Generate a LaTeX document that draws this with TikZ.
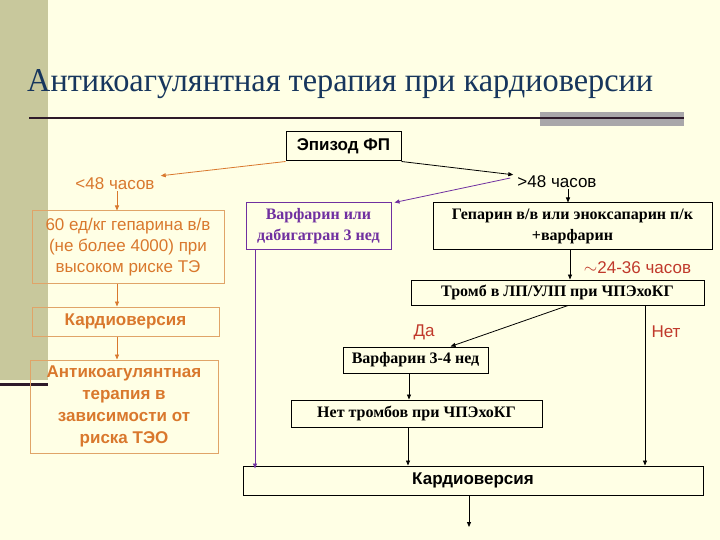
\documentclass[tikz,border=0pt]{standalone}
\usepackage{fontspec}
\setmainfont{Liberation Serif}
\setsansfont{Liberation Sans}
\newfontfamily\arialf{Liberation Sans}
\usetikzlibrary{arrows.meta}
\definecolor{bgc}{HTML}{FFFFE5}
\definecolor{barc}{HTML}{C8C89C}
\definecolor{titlec}{HTML}{17365D}
\definecolor{rulec}{HTML}{2E1A2A}
\definecolor{grayc}{HTML}{A9A7AA}
\definecolor{orc}{HTML}{D9782D}
\definecolor{orbc}{HTML}{E0A468}
\definecolor{purc}{HTML}{7030A0}
\definecolor{redc}{HTML}{C0392B}
\tikzset{
  arr/.style={-{Triangle[length=5pt,width=4pt]}, line width=0.8pt},
  bbox/.style={draw=black, line width=1pt, fill=bgc, inner sep=0pt, align=center},
  sansb/.style={font=\arialf\bfseries\fontsize{17}{20}\selectfont},
  serifb/.style={font=\rmfamily\bfseries\fontsize{16}{21}\selectfont},
  obox/.style={draw=orbc, line width=1pt, inner sep=0pt, align=center, text=orc},
  olab/.style={font=\arialf\fontsize{17}{21}\selectfont, inner sep=1pt},
}
\begin{document}
\begin{tikzpicture}[x=1pt,y=-1pt]
\fill[bgc] (0,0) rectangle (720,540);
\useasboundingbox (0,0) rectangle (720,540);
% left bar
\fill[barc] (0,0) rectangle (48,380);
\draw[rulec, line width=3pt] (0,384) -- (48,384);
% title
\node[anchor=base west, inner sep=0pt, text=titlec] (title) at (27,92)
  {\resizebox{626pt}{22pt}{\rmfamily Антикоагулянтная терапия при кардиоверсии}};
\fill[grayc] (540,112) rectangle (684,126);
\draw[rulec, line width=2pt] (29,118) -- (684,118);

% main flow
\node[bbox, sansb, minimum width=115pt, minimum height=29pt] (ep) at (343.5,146.5) {Эпизод ФП};
\node[olab, text=orc] (lt) at (115,184) {<48 часов};
\node[olab, text=black] (gt) at (557,182) {>48 часов};

\node[bbox, draw=purc, text=purc, serifb, minimum width=145pt, minimum height=46pt] (w1) at (318.5,226)
  {Варфарин или\\дабигатран 3 нед};
\node[bbox, serifb, minimum width=279pt, minimum height=46pt] (hep) at (572.5,226)
  {Гепарин в/в или эноксапарин п/к\\+варфарин};
\node[olab, text=redc] (h24) at (637.5,267.5) {$\sim$24-36 часов};
\node[bbox, serifb, minimum width=293pt, minimum height=25pt] (tr) at (557.5,292.5)
  {Тромб в ЛП/УЛП при ЧПЭхоКГ};
\node[olab, text=redc] (da) at (424,332) {Да};
\node[olab, text=redc] (net) at (666,332) {Нет};
\node[bbox, serifb, minimum width=145pt, minimum height=26pt] (w2) at (415.5,360) {Варфарин 3-4 нед};
\node[bbox, serifb, minimum width=251pt, minimum height=27pt] (nt) at (416.5,413.5) {Нет тромбов при ЧПЭхоКГ};
\node[bbox, sansb, minimum width=460pt, minimum height=29pt] (kd) at (473,480.5) {Кардиоверсия};
\coordinate (out) at (469,527);

% left column
\node[obox, olab, minimum width=192pt, minimum height=72pt] (o1) at (128,247)
  {60 ед/кг гепарина в/в\\(не более 4000) при\\высоком риске ТЭ};
\node[obox, sansb, minimum width=187pt, minimum height=29pt] (o2) at (125.5,321.5) {Кардиоверсия};
\node[obox, sansb, font=\arialf\bfseries\fontsize{17}{22}\selectfont, minimum width=188pt, minimum height=93pt] (o3) at (124,406.5)
  {Антикоагулянтная\\терапия в\\зависимости от\\риска ТЭО};

\coordinate (cxo) at (117,0);
\coordinate (cxg) at (568,0);
\coordinate (cxh) at (570,0);
\coordinate (cxp) at (255,0);
\coordinate (cxn) at (645,0);
\coordinate (cxw) at (409,0);

% connectors
\draw[arr, orc] (ep.south west) -- ([xshift=5pt,yshift=1pt]lt.north east);
\draw[arr, orc] (lt.south -| cxo) -- (o1.north -| cxo);
\draw[arr, orc] (o1.south -| cxo) -- (o2.north -| cxo);
\draw[arr, orc] (o2.south -| cxo) -- (o3.north -| cxo);

\draw[arr, black] (ep.south east) -- ([xshift=-3pt]gt.north west);
\draw[arr, purc] ([xshift=-6pt,yshift=4pt]gt.west) -- ([xshift=3pt]w1.north east);
\draw[arr, black] (gt.south -| cxg) -- (hep.north -| cxg);
\draw[arr, purc] (w1.south -| cxp) -- ([yshift=-3pt]kd.north -| cxp);
\draw[arr, black] (hep.south -| cxh) -- (tr.north -| cxh);
\draw[arr, black] (tr.south -| cxg) -- ([xshift=-38pt]w2.north east);
\draw[arr, black] (tr.south -| cxn) -- (kd.north -| cxn);
\draw[arr, black] (w2.south -| cxw) -- (nt.north -| cxw);
\draw[arr, black] ([xshift=-8.5pt]nt.south) -- ([xshift=-8.5pt]nt.south |- kd.north);
\draw[arr, black] (kd.south -| out) -- (out);
\end{tikzpicture}
\end{document}
